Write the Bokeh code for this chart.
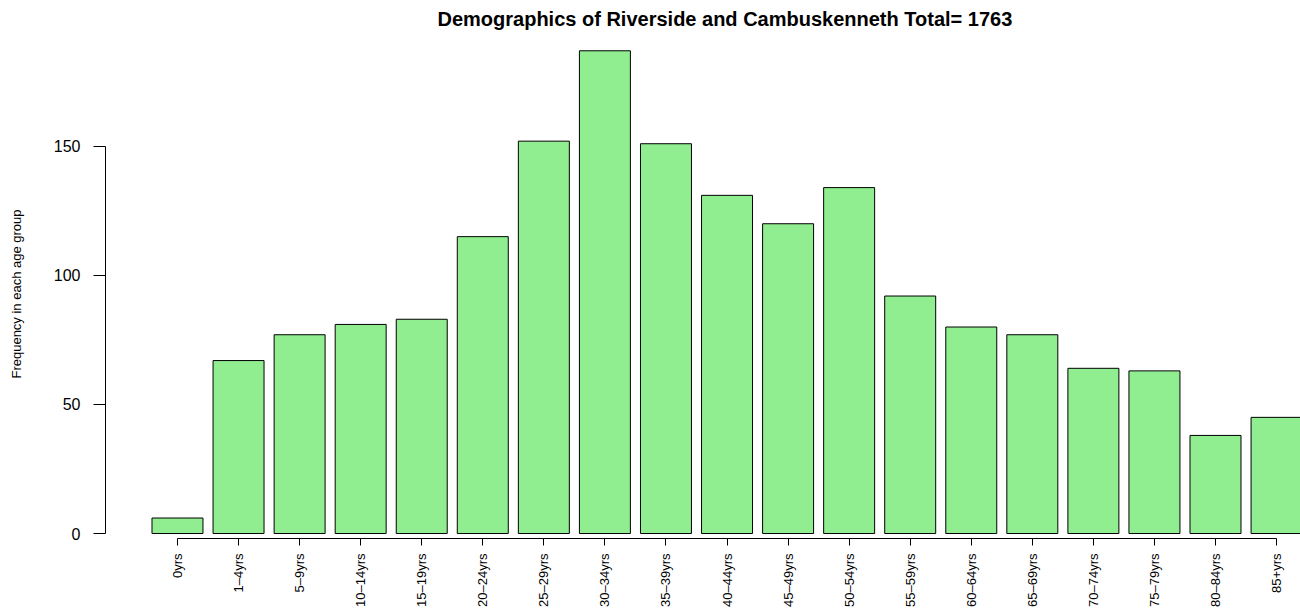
import numpy as np
from bokeh.plotting import figure
from bokeh.models import ColumnDataSource, Range1d, FixedTicker
from bokeh.embed import file_html
from bokeh.resources import INLINE

ages = ["0yrs", "1\u20134yrs", "5\u20139yrs", "10\u201314yrs", "15\u201319yrs",
        "20\u201324yrs", "25\u201329yrs", "30\u201334yrs", "35\u201339yrs", "40\u201344yrs",
        "45\u201349yrs", "50\u201354yrs", "55\u201359yrs", "60\u201364yrs", "65\u201369yrs",
        "70\u201374yrs", "75\u201379yrs", "80\u201384yrs", "85+yrs"]
counts = [6, 67, 77, 81, 83, 115, 152, 187, 151, 131, 120, 134, 92, 80, 77, 64, 63, 38, 45]
y_ticks = [0, 50, 100, 150]

total = sum(counts)
pos = list(range(len(ages)))
src = ColumnDataSource(dict(x=pos, top=counts, age=ages))

FONT = "Liberation Sans"

p = figure(width=1300, height=609, output_backend="svg", toolbar_location=None,
           x_range=Range1d(-1.179, 18.392), y_range=Range1d(-1.93, 187.5),
           min_border_left=105, min_border_right=0, min_border_top=49, min_border_bottom=70,
           title=f"Demographics of Riverside and Cambuskenneth Total= {total}")

p.vbar(x="x", top="top", bottom=0, width=0.835, source=src,
       fill_color="#90EE90", line_color="black", line_width=1)

p.outline_line_color = None
p.xgrid.visible = False
p.ygrid.visible = False
p.background_fill_color = "white"
p.border_fill_color = "white"

p.title.text_font = FONT
p.title.text_font_size = "20px"
p.title.text_font_style = "bold"
p.title.align = "left"
p.title.offset = 332
p.title.vertical_align = "top"
p.title.standoff = 0
p.title.padding = dict(top=6, bottom=18, left=0, right=0)
p.title.text_color = "black"

xa = p.xaxis[0]
xa.ticker = FixedTicker(ticks=pos)
xa.major_label_overrides = {i: a for i, a in zip(pos, ages)}
xa.bounds = (pos[0], pos[-1])
xa.major_label_orientation = np.pi / 2
xa.major_tick_out = 7
xa.major_tick_in = 0
xa.minor_tick_out = 0
xa.minor_tick_in = 0
xa.major_label_standoff = 8
xa.major_label_text_font = FONT
xa.major_label_text_font_size = "13px"
xa.major_label_text_color = "black"
xa.axis_line_color = "black"
xa.major_tick_line_color = "black"

ya = p.yaxis[0]
ya.ticker = FixedTicker(ticks=y_ticks)
ya.bounds = (y_ticks[0], y_ticks[-1])
ya.major_tick_out = 12
ya.major_tick_in = 0
ya.minor_tick_out = 0
ya.minor_tick_in = 0
ya.major_label_standoff = 13
ya.major_label_text_font = FONT
ya.major_label_text_font_size = "16px"
ya.major_label_text_color = "black"
ya.axis_line_color = "black"
ya.major_tick_line_color = "black"
ya.axis_label = "Frequency in each age group"
ya.axis_label_text_font = FONT
ya.axis_label_text_font_size = "13px"
ya.axis_label_text_font_style = "normal"
ya.axis_label_text_color = "black"
ya.axis_label_standoff = 27

open("out.html", "w").write(file_html(p, INLINE))
